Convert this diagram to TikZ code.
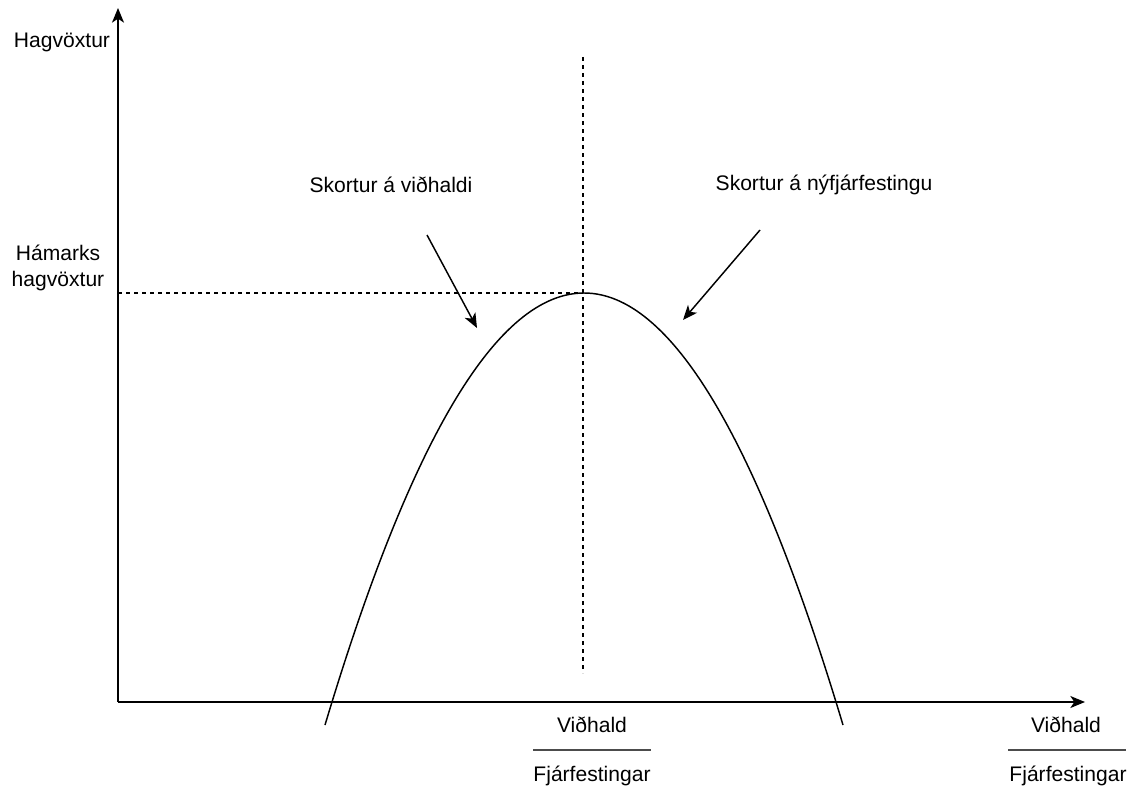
\documentclass[tikz,border=0pt]{standalone}
\usepackage{fontspec}
\setmainfont{Liberation Sans}
\usetikzlibrary{arrows.meta}
\begin{document}
\begin{tikzpicture}[x=0.75pt,y=-0.75pt,
  lbl/.style={font=\fontsize{15.8}{20}\selectfont, inner sep=0pt, text=black},
  axis/.style={line width=1.1pt, -{Stealth[length=11pt,width=9pt,inset=3pt]}},
  pointer/.style={line width=1.1pt, -{Stealth[length=11pt,width=9pt,inset=3pt]}},
  guide/.style={line width=0.8pt, dash pattern=on 3pt off 3pt},
  fracbar/.style={line width=1.1pt, draw=black!70}]
\useasboundingbox (0,0) rectangle (1138,792);
% axes
\coordinate (O) at (118,702);
\coordinate (Ytip) at (118,8);
\coordinate (Xtip) at (1085,702);
\draw[axis] (O) -- (Ytip);
\draw[axis] (O) -- (Xtip);
% guides
\coordinate (peak) at (583,293);
\coordinate (yref) at (118,293);
\coordinate (vtop) at (583,57);
\coordinate (vbot) at (583,673);
\draw[guide] (yref) -- (peak);
\draw[guide] (vtop) -- (vbot);
% curve
\coordinate (cl) at (325,725);
\coordinate (cr) at (843,725);
\draw[line width=1.1pt] (cl) .. controls (497.7,149) and (670.3,149) .. (cr);
% labels
\node[lbl] (hag) at (62,42) {Hagvöxtur};
\node[lbl, align=center] (ham) at (58,268) {Hámarks\\hagvöxtur};
\node[lbl] (sv) at (391,185) {Skortur á viðhaldi};
\node[lbl] (sn) at (824,185) {Skortur á nýfjárfestingu};
% pointers
\coordinate (a1s) at (427,235);
\coordinate (a1e) at (477,328);
\coordinate (a2s) at (760,230);
\coordinate (a2e) at (683,320);
\draw[pointer] (a1s) -- (a1e);
\draw[pointer] (a2s) -- (a2e);
% bottom fractions
\node[lbl] (v1) at (592,725) {Viðhald};
\node[lbl] (f1) at (592,776) {Fjárfestingar};
\coordinate (b1l) at (533,750);
\coordinate (b1r) at (651,750);
\draw[fracbar] (b1l) -- (b1r);
\node[lbl] (v2) at (1066,725) {Viðhald};
\node[lbl] (f2) at (1068,776) {Fjárfestingar};
\coordinate (b2l) at (1008,750);
\coordinate (b2r) at (1126,750);
\draw[fracbar] (b2l) -- (b2r);
\end{tikzpicture}
\end{document}
